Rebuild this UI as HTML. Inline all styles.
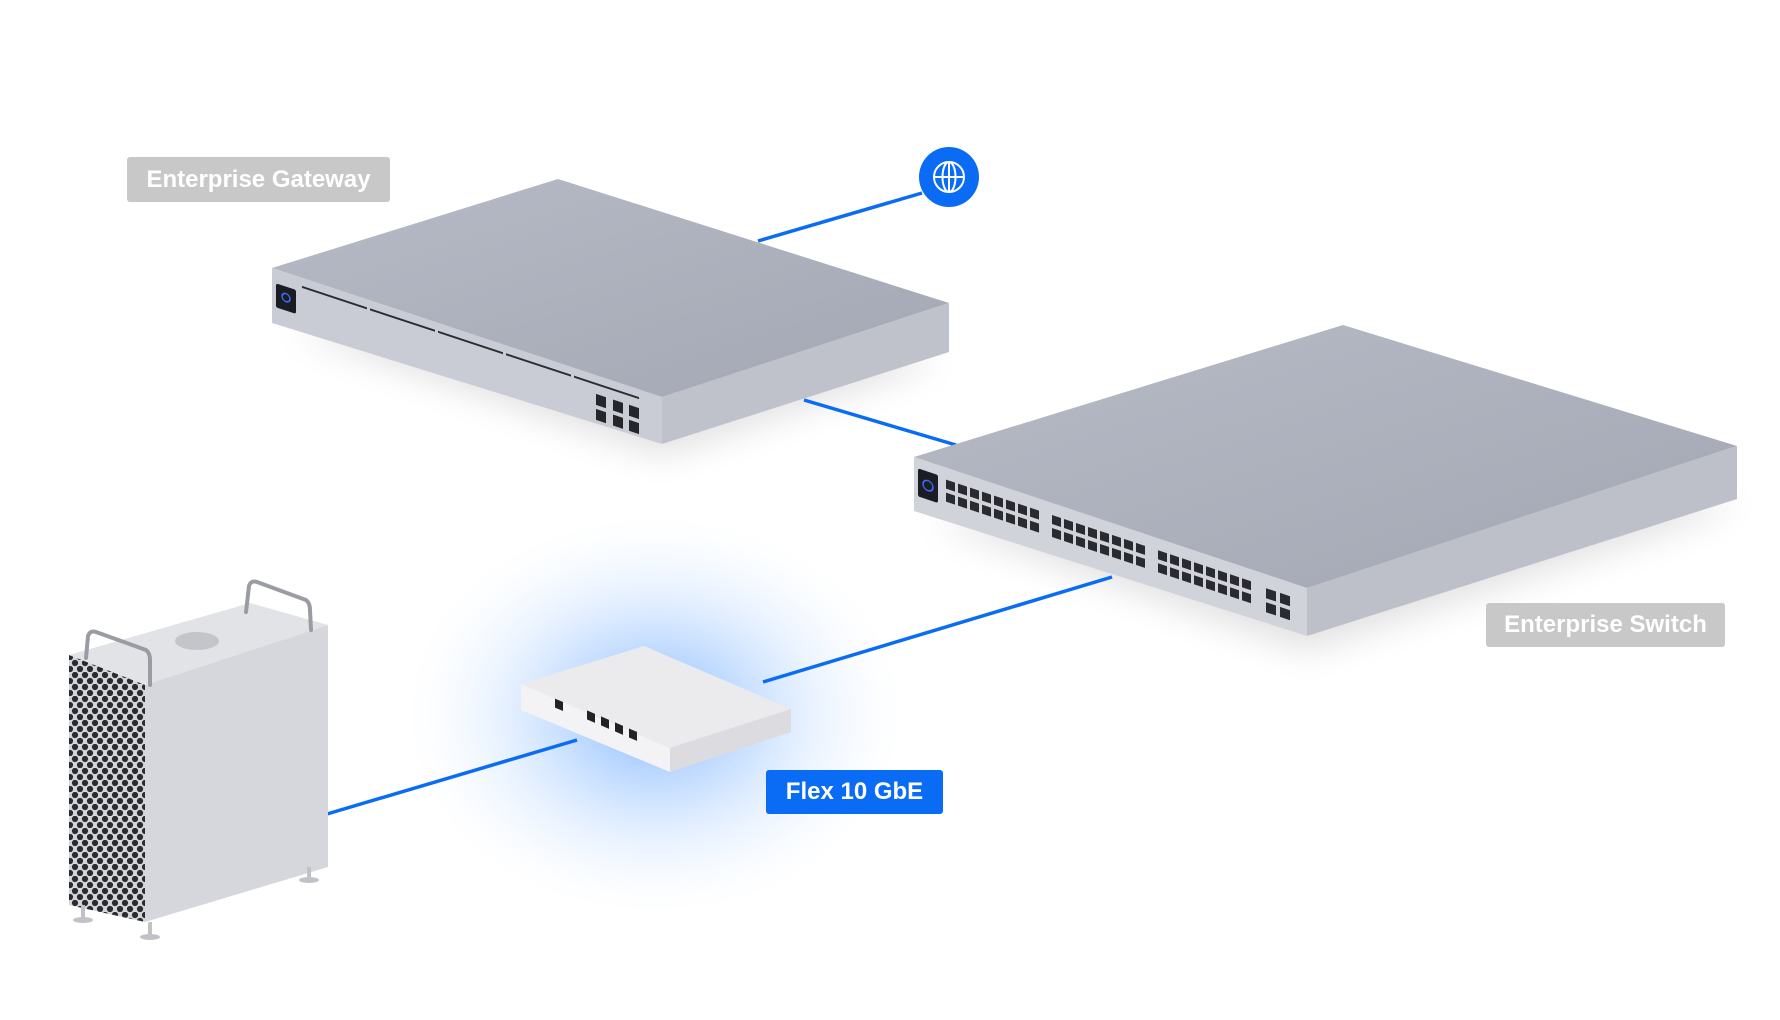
<!DOCTYPE html>
<html><head><meta charset="utf-8"><style>
html,body{margin:0;padding:0;background:#fff;}
body{width:1780px;height:1020px;overflow:hidden;position:relative;font-family:"Liberation Sans",sans-serif;}
.lbl{position:absolute;color:#fff;font-weight:bold;font-size:24px;display:flex;align-items:center;justify-content:center;border-radius:3px;}
</style></head><body>
<svg width="1780" height="1020" viewBox="0 0 1780 1020" style="position:absolute;left:0;top:0">
<defs>
<radialGradient id="glow" cx="50%" cy="50%" r="50%">
<stop offset="0" stop-color="#5aa0ff" stop-opacity="0.75"/>
<stop offset="0.45" stop-color="#9cc6ff" stop-opacity="0.45"/>
<stop offset="1" stop-color="#e8f2ff" stop-opacity="0"/>
</radialGradient>
<linearGradient id="topg" x1="0" y1="0" x2="1" y2="1">
<stop offset="0" stop-color="#b7bbc6"/><stop offset="1" stop-color="#a2a7b3"/>
</linearGradient>
<filter id="blur" x="-50%" y="-50%" width="200%" height="200%"><feGaussianBlur stdDeviation="18"/></filter>
<pattern id="hex" width="10" height="12" patternUnits="userSpaceOnUse">
<rect width="10" height="12" fill="#d4d6da"/>
<circle cx="5" cy="3" r="3.1" fill="#2a2b30"/>
<circle cx="0" cy="9" r="3.1" fill="#2a2b30"/><circle cx="10" cy="9" r="3.1" fill="#2a2b30"/>
</pattern>
</defs>

<ellipse cx="655" cy="715" rx="250" ry="200" fill="url(#glow)"/>

<polygon points="290,330 662,455 940,360 700,300" fill="#000" opacity="0.12" filter="url(#blur)"/>
<polygon points="930,520 1307,650 1740,505 1500,470" fill="#000" opacity="0.12" filter="url(#blur)"/>

<g stroke="#0a6cf5" stroke-width="3.5" fill="none">
<line x1="922" y1="193" x2="758" y2="241"/>
<line x1="804" y1="400" x2="956" y2="445"/>
<line x1="1112" y1="577" x2="763" y2="682"/>
<line x1="577" y1="740" x2="327" y2="814"/>
</g>

<circle cx="949" cy="177" r="30" fill="#0a6cf5"/>
<g stroke="#fff" stroke-width="2" fill="none">
<circle cx="949" cy="177" r="15"/>
<ellipse cx="949" cy="177" rx="6.5" ry="15"/>
<line x1="934" y1="177" x2="964" y2="177"/>
<line x1="949" y1="162" x2="949" y2="192"/>
</g>

<polygon points="272,268 558,179 949,303 662,397" fill="url(#topg)"/>
<polygon points="272,268 662,397 662,444 272,323" fill="#c9ccd5"/>
<polygon points="662,397 949,303 949,352 662,444" fill="#bfc2cb"/>
<g transform="matrix(1,0.33,0,1,272,268)">
<rect x="4" y="14" width="20" height="24" rx="2" fill="#1b1c22"/>
<circle cx="14" cy="25" r="4" fill="none" stroke="#3a6cf0" stroke-width="1.5"/>
<rect x="30" y="8" width="65" height="2" fill="#2b2c33"/>
<rect x="98" y="8" width="65" height="2" fill="#2b2c33"/>
<rect x="166" y="8" width="65" height="2" fill="#2b2c33"/>
<rect x="234" y="8" width="65" height="2" fill="#2b2c33"/>
<rect x="302" y="8" width="65" height="2" fill="#2b2c33"/>
<rect x="324" y="19" width="10" height="11" fill="#25262c"/><rect x="324" y="34" width="10" height="11" fill="#25262c"/>
<rect x="341" y="19" width="10" height="11" fill="#25262c"/><rect x="341" y="34" width="10" height="11" fill="#25262c"/>
<rect x="357" y="19" width="10" height="11" fill="#25262c"/><rect x="357" y="34" width="10" height="11" fill="#25262c"/>
</g>

<polygon points="914,457 1343,325 1737,446 1307,588" fill="url(#topg)"/>
<polygon points="914,457 1307,588 1307,636 914,511" fill="#d1d3da"/>
<polygon points="1307,588 1737,446 1737,499 1307,636" fill="#bdc0c9"/>
<g transform="matrix(1,0.333,0,1,914,457)">
<rect x="4" y="10" width="20" height="28" rx="2" fill="#1b1c24"/>
<circle cx="14" cy="24" r="5" fill="none" stroke="#3a6cf0" stroke-width="1.5"/>
<g id="pg" fill="#2a2b31">
<rect x="32" y="12" width="9" height="9"/><rect x="44" y="12" width="9" height="9"/><rect x="56" y="12" width="9" height="9"/><rect x="68" y="12" width="9" height="9"/><rect x="80" y="12" width="9" height="9"/><rect x="92" y="12" width="9" height="9"/><rect x="104" y="12" width="9" height="9"/><rect x="116" y="12" width="9" height="9"/>
<rect x="32" y="25" width="9" height="9"/><rect x="44" y="25" width="9" height="9"/><rect x="56" y="25" width="9" height="9"/><rect x="68" y="25" width="9" height="9"/><rect x="80" y="25" width="9" height="9"/><rect x="92" y="25" width="9" height="9"/><rect x="104" y="25" width="9" height="9"/><rect x="116" y="25" width="9" height="9"/>
</g>
<use href="#pg" transform="translate(106,0)"/>
<use href="#pg" transform="translate(212,0)"/>
<rect x="352" y="14" width="10" height="10" fill="#2a2b31"/><rect x="366" y="14" width="10" height="10" fill="#2a2b31"/>
<rect x="352" y="28" width="10" height="10" fill="#2a2b31"/><rect x="366" y="28" width="10" height="10" fill="#2a2b31"/>
</g>

<polygon points="521,684 644,646 791,709 670,748" fill="#ebebee"/>
<polygon points="521,684 670,748 670,772 521,710" fill="#f3f3f5"/>
<polygon points="670,748 791,709 791,732 670,772" fill="#dcdce0"/>
<g transform="matrix(1,0.43,0,1,521,684)" fill="#222">
<rect x="34" y="0" width="8" height="9"/>
<rect x="66" y="-2" width="8" height="9"/><rect x="80" y="-2" width="8" height="9"/><rect x="94" y="-2" width="8" height="9"/><rect x="108" y="-2" width="8" height="9"/>
</g>

<polygon points="69,655 250,603 328,625 145,685" fill="#e2e3e7"/>
<polygon points="145,685 328,625 328,867 145,922" fill="#d6d7dc"/>
<polygon points="69,655 145,685 145,922 69,905" fill="url(#hex)"/>
<ellipse cx="197" cy="641" rx="22" ry="9" fill="#c3c5ca"/>
<g stroke="#9a9ca3" stroke-width="4" fill="none" stroke-linecap="round">
<path d="M86,658 L88,636 Q90,630 96,632 L146,650 Q150,653 150,660 L150,685"/>
<path d="M246,612 L249,586 Q251,580 257,582 L306,600 Q310,603 310,610 L311,630"/>
</g>
<g fill="#c0c2c7">
<rect x="81" y="905" width="4" height="14"/><ellipse cx="83" cy="920" rx="10" ry="3"/>
<rect x="148" y="922" width="4" height="14"/><ellipse cx="150" cy="937" rx="10" ry="3"/>
<rect x="307" y="867" width="4" height="12"/><ellipse cx="309" cy="880" rx="10" ry="3"/>
</g>
</svg>

<div class="lbl" style="left:127px;top:157px;width:263px;height:45px;background:#c8c8c8;">Enterprise Gateway</div>
<div class="lbl" style="left:1486px;top:603px;width:239px;height:44px;background:#c8c8c8;">Enterprise Switch</div>
<div class="lbl" style="left:766px;top:770px;width:177px;height:44px;background:#0a6cf5;">Flex 10 GbE</div>
</body></html>
